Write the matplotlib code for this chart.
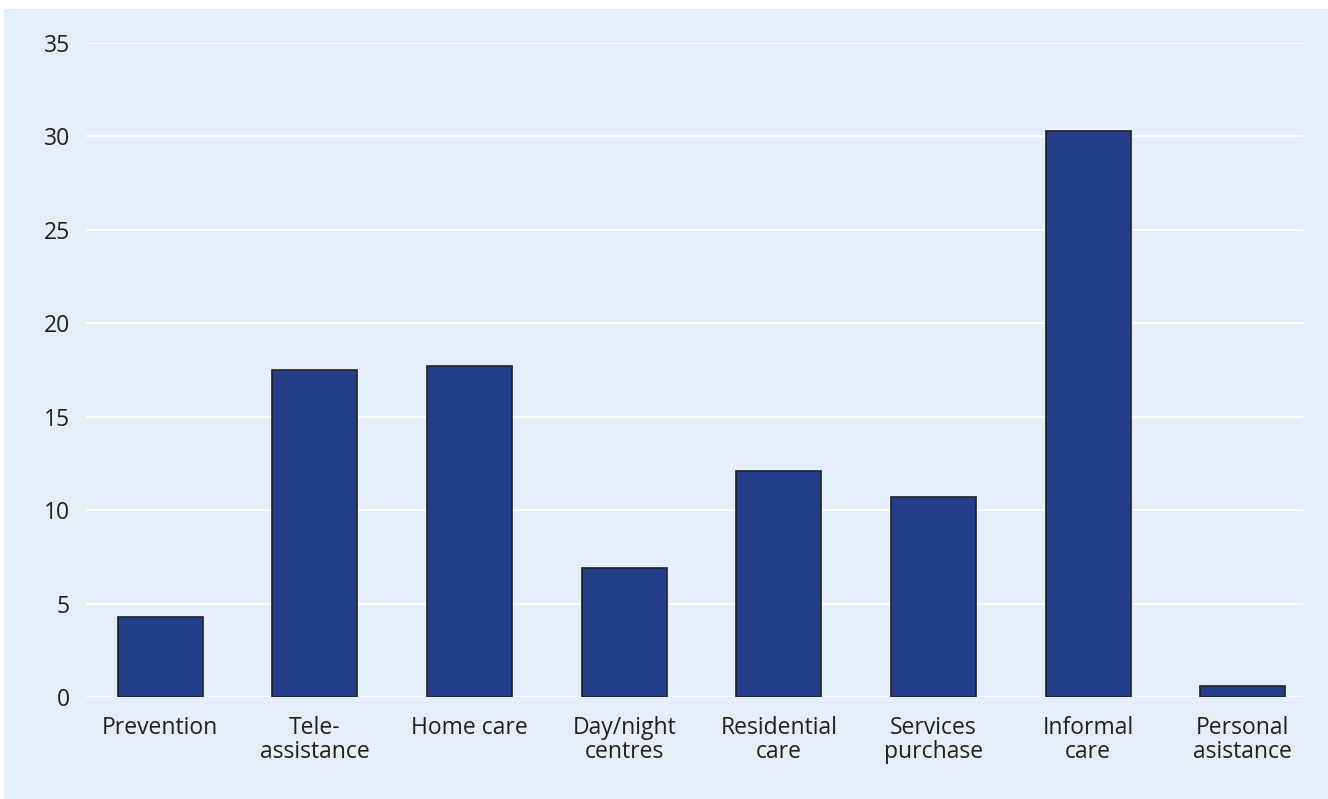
import matplotlib
matplotlib.use("Agg")
import matplotlib.pyplot as plt
from matplotlib.patches import Rectangle

categories = ["Prevention", "Tele-\nassistance", "Home care", "Day/night\ncentres",
              "Residential\ncare", "Services\npurchase", "Informal\ncare", "Personal\nasistance"]
values = [4.3, 17.5, 17.7, 6.9, 12.1, 10.7, 30.3, 0.6]
yticks = [0, 5, 10, 15, 20, 25, 30, 35]

plt.rcParams["font.family"] = ["Open Sans", "DejaVu Sans"]

bg = "#e3eef8"
fig = plt.figure(figsize=(13.28, 7.99), dpi=100, facecolor="white")
fig.patches.append(Rectangle((4 / 1328, 0), 1 - 4 / 1328, 1 - 9 / 799,
                             transform=fig.transFigure, facecolor=bg, edgecolor="none",
                             zorder=-10))

ax = fig.add_axes([86 / 1328, 1 - 697 / 799, (1303 - 86) / 1328, (697 - 43) / 799])
ax.set_facecolor("none")
x = range(len(values))
ax.bar(x, values, width=0.55, color="#243e8c", edgecolor="#222222", linewidth=1.2, zorder=3)

ax.set_ylim(0, 35)
ax.set_xlim(-0.48, 7.39)
ax.set_yticks(yticks)
ax.set_yticklabels([str(t) for t in yticks])
ax.set_xticks(list(x))
ax.set_xticklabels(categories, linespacing=1.0)
ax.grid(axis="y", color="white", linewidth=1.2, zorder=0)
ax.set_axisbelow(True)
for s in ax.spines.values():
    s.set_visible(False)
ax.tick_params(axis="both", length=0, labelsize=16.5, colors="#231f20")
ax.tick_params(axis="y", pad=11.5)
ax.tick_params(axis="x", pad=14)

fig.savefig("out.png", dpi=100, facecolor="white")
